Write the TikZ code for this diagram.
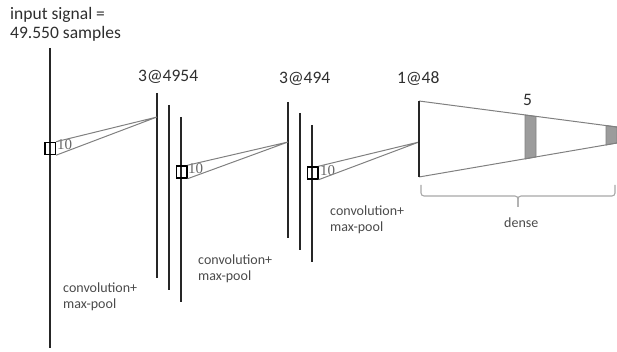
\documentclass[tikz,border=0pt]{standalone}
\usepackage{fontspec}
\setmainfont{Carlito}
\newfontfamily\tenfont{Liberation Serif}
\definecolor{txt}{HTML}{2E2E2E}
\definecolor{lbl}{HTML}{4A4A4A}
\definecolor{conec}{HTML}{808080}
\definecolor{barc}{HTML}{9C9C9C}
\definecolor{brc}{HTML}{A8A8A8}
\begin{document}
\begin{tikzpicture}[x=1pt,y=-1pt,
  layer/.style={line width=2.8pt, draw=black!85},
  conel/.style={draw=conec, line width=1pt},
  win/.style={draw=black, line width=1.5pt, minimum width=10.5pt, minimum height=12pt, inner sep=0pt},
  head/.style={font=\fontsize{17.5}{20}\selectfont, text=txt, inner sep=0pt, anchor=base west},
  lab/.style={font=\fontsize{14}{16}\selectfont, text=lbl, inner sep=0pt, anchor=base west},
  kern/.style={font=\tenfont\fontsize{15}{16}\selectfont, text=black!60, inner sep=0pt, anchor=base west},
  barf/.style={fill=barc, draw=conec, line width=0.8pt},
  bracket/.style={draw=brc, line width=1.1pt, rounded corners=3pt}]
\useasboundingbox (0,0) rectangle (617,352);
% headings
\node[head] (in1) at (10,20) {input signal =};
\node[head] (in2) at (10,39) {49.550 samples};
\node[head] (h1) at (138,82) {3@4954};
\node[head] (h2) at (279,84) {3@494};
\node[head] (h3) at (397,84) {1@48};
\node[head] (h5) at (523,106) {5};
% input signal
\coordinate (in-t) at (50,48); \coordinate (in-b) at (50,348);
\draw[layer] (in-t) -- (in-b);
\node[win] (w1) at (50,148.5) {};
\node[kern] (k1) at (57,150) {10};
% layer 1
\coordinate (a1t) at (157,93);  \coordinate (a1b) at (157,278);
\coordinate (a2t) at (169,105); \coordinate (a2b) at (169,290);
\coordinate (a3t) at (181,117); \coordinate (a3b) at (181,302);
\draw[layer] (a1t) -- (a1b);
\draw[layer] (a2t) -- (a2b);
\draw[layer] (a3t) -- (a3b);
\coordinate (c1) at (157,117);
\draw[conel] (w1.north east) -- (c1) -- (w1.south east);
\node[win] (w2) at (181.5,172) {};
\node[kern] (k2) at (188,174) {10};
% layer 2
\coordinate (b1t) at (288,102); \coordinate (b1b) at (288,238);
\coordinate (b2t) at (300,113); \coordinate (b2b) at (300,250);
\coordinate (b3t) at (312,125); \coordinate (b3b) at (312,262);
\draw[layer] (b1t) -- (b1b);
\draw[layer] (b2t) -- (b2b);
\draw[layer] (b3t) -- (b3b);
\coordinate (c2) at (288,142);
\draw[conel] (w2.north east) -- (c2) -- (w2.south east);
\node[win] (w3) at (312.5,173) {};
\node[kern] (k3) at (320,176) {10};
% layer 3 + dense
\coordinate (d1t) at (419,101); \coordinate (d1b) at (419,177);
\coordinate (c3) at (419,142);
\draw[conel] (w3.north east) -- (c3) -- (w3.south east);
\coordinate (e1t) at (525,115); \coordinate (e1b) at (525,159);
\coordinate (e2t) at (536,116.5); \coordinate (e2b) at (536,157);
\coordinate (f1t) at (606,125.5); \coordinate (f1b) at (606,145);
\coordinate (f2t) at (617,127); \coordinate (f2b) at (617,143);
\fill[barf] (e1t) -- (e2t) -- (e2b) -- (e1b) -- cycle;
\fill[barf] (f1t) -- (f2t) -- (f2b) -- (f1b) -- cycle;
\draw[conel] (d1t) -- (f2t);
\draw[conel] (d1b) -- (f2b);
\draw[line width=2pt, draw=black!85] (d1t) -- (d1b);
% bracket
\coordinate (br-l) at (421,185); \coordinate (br-r) at (615,185);
\coordinate (br-m) at (518,196); \coordinate (br-tip) at (518,207);
\draw[bracket] (br-l) -- (br-l |- br-m) -- (br-m) -- (br-tip);
\draw[bracket] (br-tip) -- (br-m) -- (br-r |- br-m) -- (br-r);
\node[lab] (dense) at (504,228) {dense};
% conv labels
\node[lab] (l1a) at (63,292) {convolution+};
\node[lab] (l1b) at (63,308) {max-pool};
\node[lab] (l2a) at (198,264) {convolution+};
\node[lab] (l2b) at (198,280) {max-pool};
\node[lab] (l3a) at (330,216) {convolution+};
\node[lab] (l3b) at (330,232) {max-pool};
\end{tikzpicture}
\end{document}
